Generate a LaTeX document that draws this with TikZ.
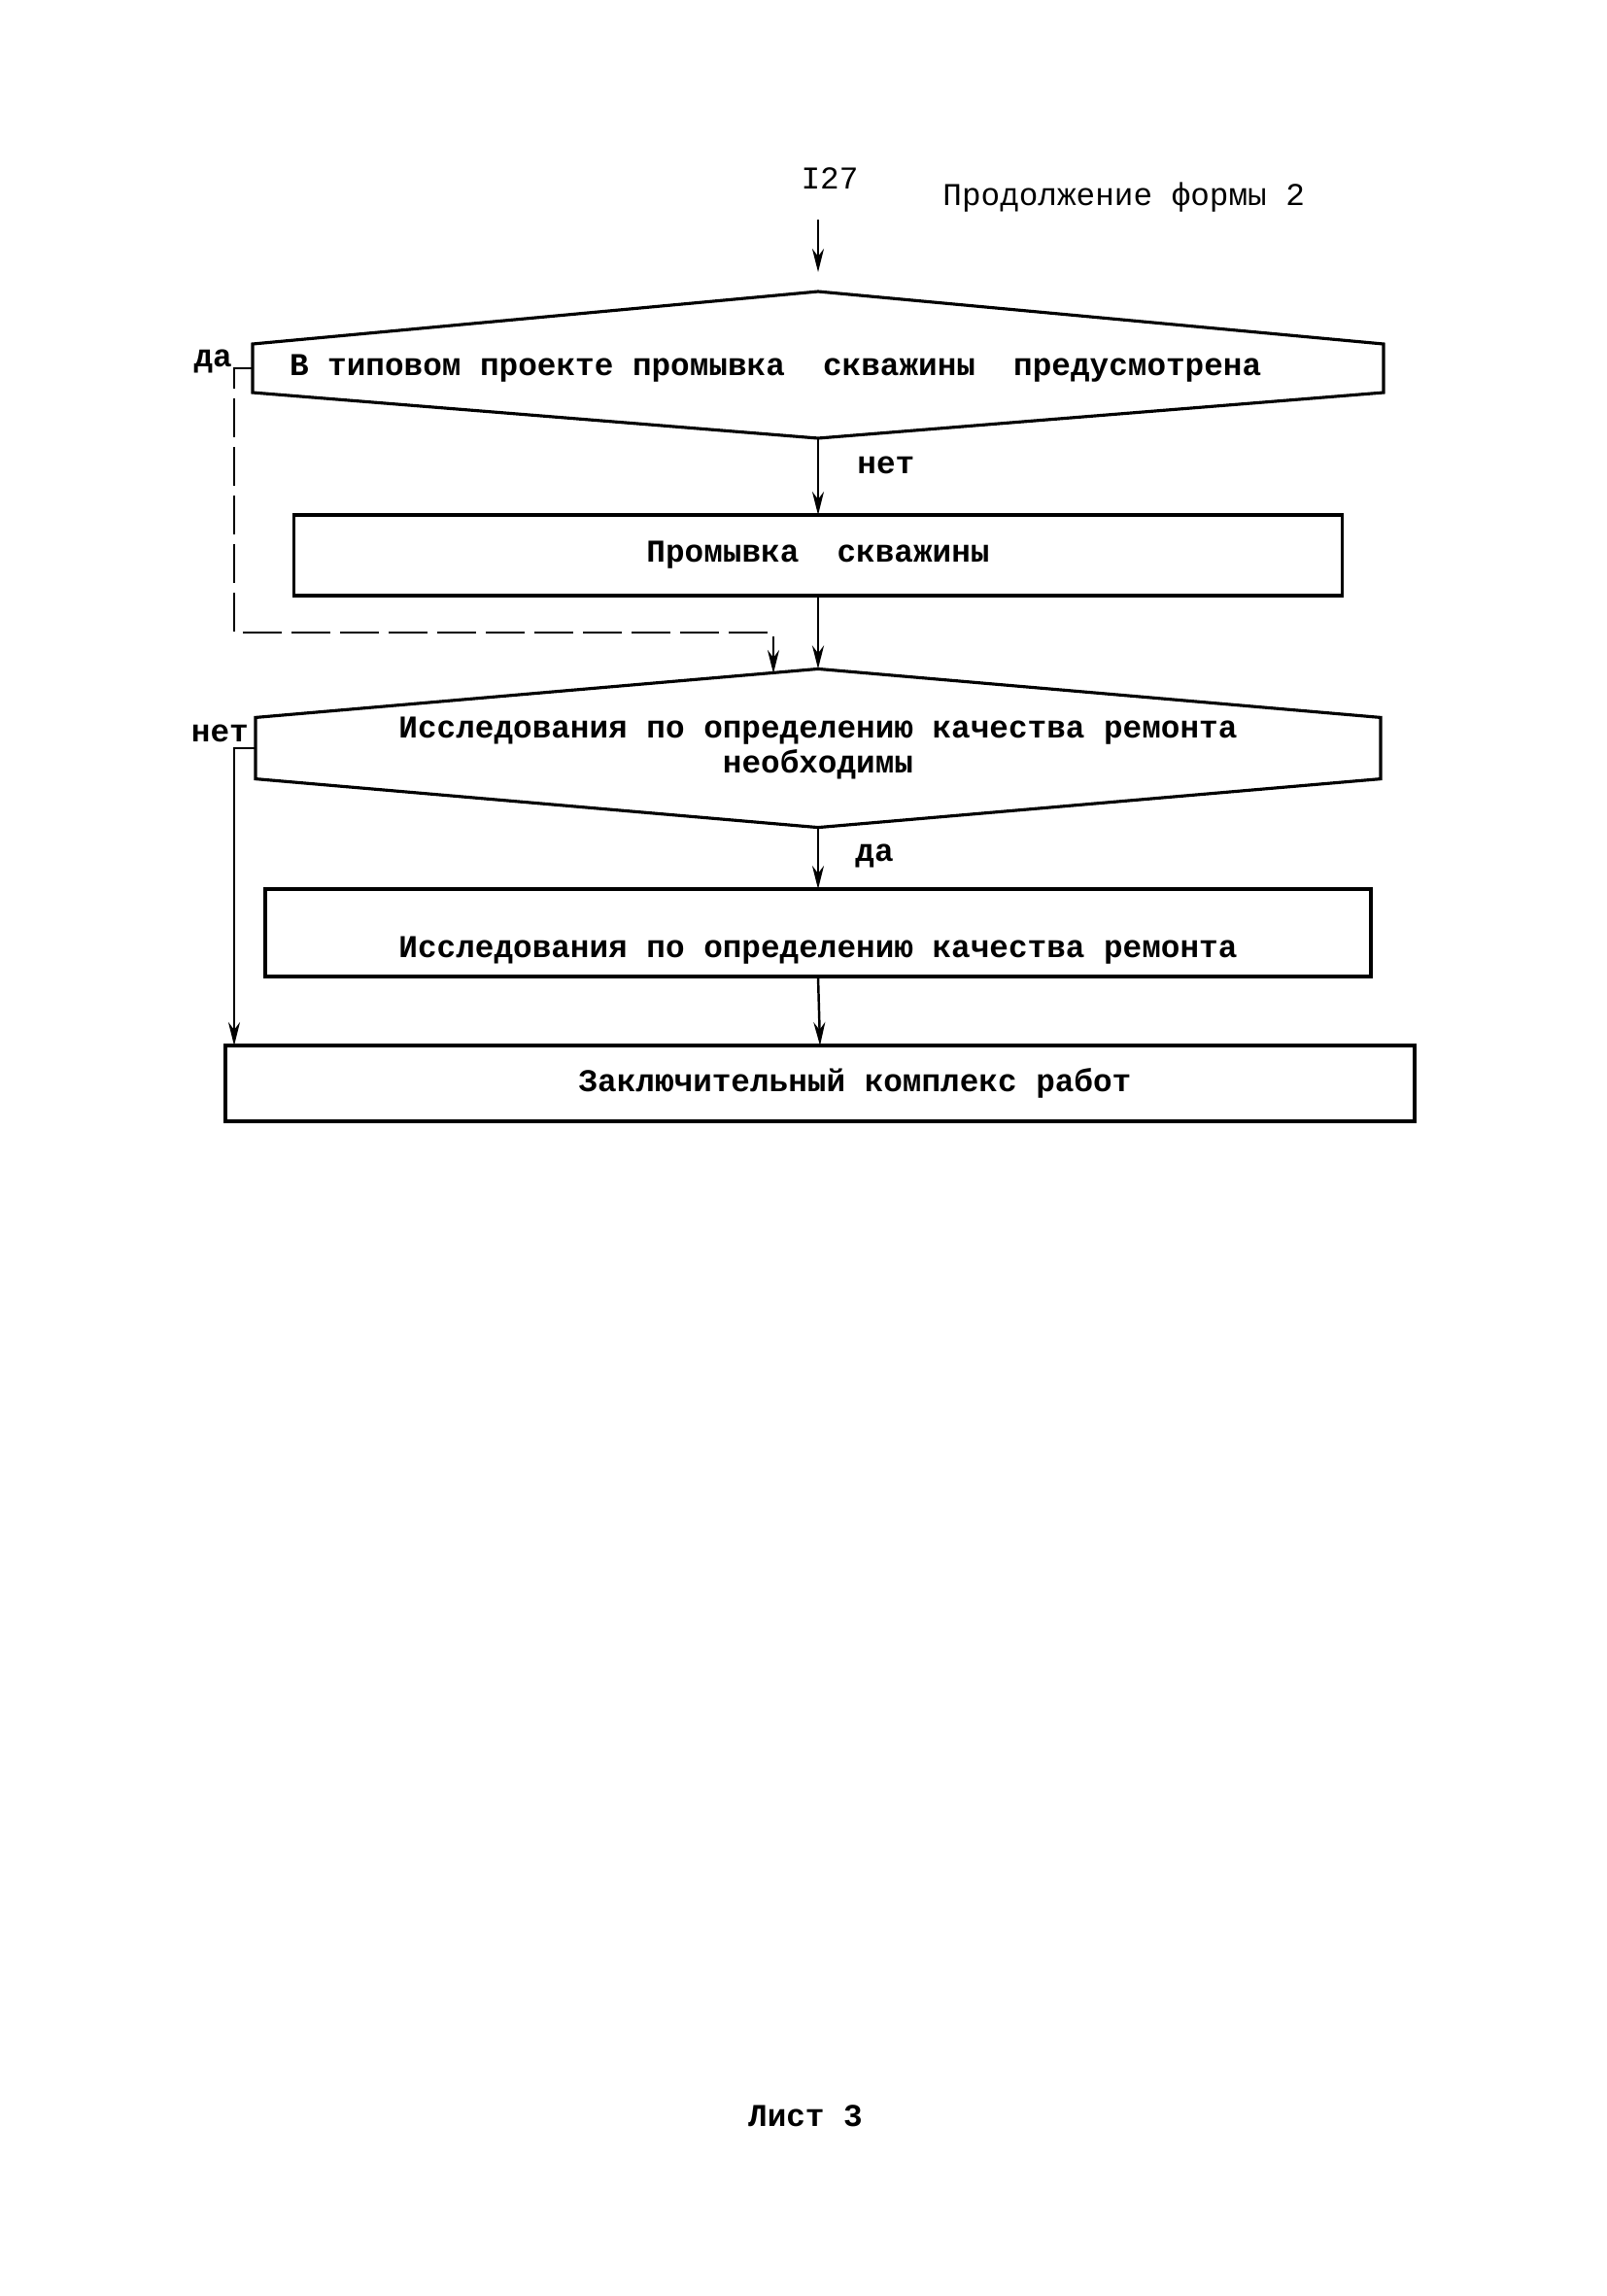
\documentclass[tikz,border=0pt]{standalone}
\usepackage{fontspec}
\setmainfont{Liberation Mono}
\usetikzlibrary{arrows.meta, positioning, calc}

\begin{document}
\begin{tikzpicture}[x=1cm,y=1cm,
  font=\fontsize{9.3}{10}\selectfont\bfseries,
  plain/.style={font=\fontsize{9.3}{10}\selectfont},
  decision/.style={inner sep=0pt, outer sep=0pt, inner xsep=0.38cm},
  stepbox/.style={draw, line width=0.9pt, inner sep=0pt, outer sep=0pt},
  hexline/.style={line width=0.9pt, line join=miter},
  flow/.style={line width=0.7pt, -{Stealth[length=2.4mm, width=1.2mm]}},
  branch/.style={flow, dash pattern=on 4mm off 1mm}
]
\useasboundingbox (0,0) rectangle (16.53,-23.63);

% header
\node[plain] (num) at (8.54,-1.84) {I27};
\node[plain, anchor=west] (cont) at (9.58,-2.03) {Продолжение формы 2};
\coordinate (in) at (8.42,-2.26);

% first question
\node[decision, minimum width=11.64cm, minimum height=0.50cm, text width=10.88cm, align=flush left] (d1) at (8.42,-3.79)
  {В типовом проекте промывка\ \ скважины\ \ предусмотрена};
\coordinate (d1top) at ($(d1.north)+(0,0.54)$);
\coordinate (d1bot) at ($(d1.south)+(0,-0.47)$);
\draw[hexline] (d1.north west) -- (d1top) -- (d1.north east) -- (d1.south east) -- (d1bot) -- (d1.south west) -- cycle;

\node[stepbox, minimum width=10.79cm, minimum height=0.83cm] (b1) at (8.42,-5.715) {Промывка\ \ скважины};

% second question
\node[decision, minimum width=11.58cm, minimum height=0.62cm, align=center] (d2) at (8.42,-7.70)
  {Исследования по определению качества ремонта\\необходимы};
\coordinate (d2top) at ($(d2.north)+(0,0.50)$);
\coordinate (d2bot) at ($(d2.south)+(0,-0.50)$);
\draw[hexline] (d2.north west) -- (d2top) -- (d2.north east) -- (d2.south east) -- (d2bot) -- (d2.south west) -- cycle;

\node[stepbox, minimum width=11.38cm, minimum height=0.90cm, text height=0.70cm, text depth=0.20cm] (b2) at (8.42,-9.60) {Исследования по определению качества ремонта};
\node[stepbox, minimum width=12.24cm, minimum height=0.78cm] (b3) at (8.44,-11.15) {\hspace*{0.72cm}Заключительный комплекс работ};

% answers
\node[anchor=base east, inner sep=1pt] (yes1) at (2.43,-3.77) {да};
\node[anchor=west] (no1) at (8.70,-4.79) {нет};
\node[anchor=base east, inner sep=1pt] (no2) at (2.60,-7.63) {нет};
\node[anchor=west] (yes2) at (8.68,-8.81) {да};

% connectors
\coordinate (jn) at (7.96,-6.51);
\coordinate (d2in) at (7.96,-6.93);
\draw[flow, shorten >=0.2cm] (in) -- (d1top);
\draw[flow] (d1bot) -- (b1.north);
\draw[flow] (b1.south) -- (d2top);
\draw[branch] (d1.west) -- ++(-0.19,0) |- (jn) -- (d2in);
\draw[flow] (d2.west) -- ++(-0.22,0) coordinate (j2) -- (j2 |- b3.north);
\draw[flow] (d2bot) -- (b2.north);
\draw[flow] (b2.south) -- (b3.north);

% footer
\node (sheet) at (8.29,-21.78) {Лист 3};
\end{tikzpicture}
\end{document}
